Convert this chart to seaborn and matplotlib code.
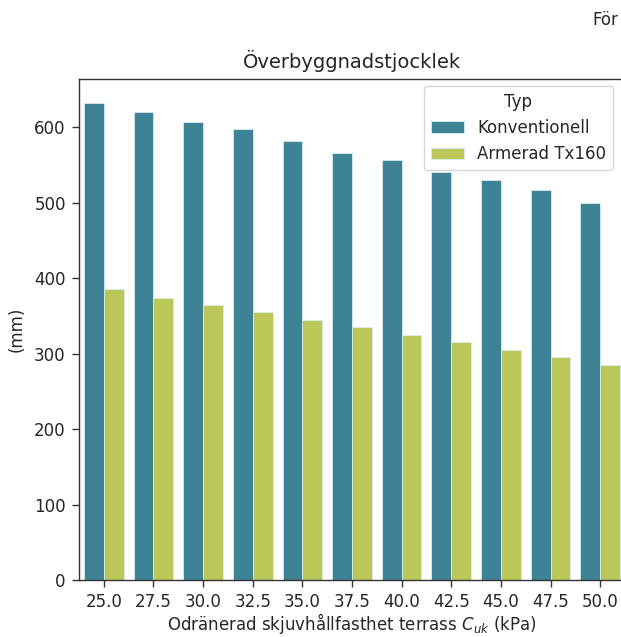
import matplotlib
matplotlib.use("Agg")
import matplotlib.pyplot as plt
import seaborn as sns
import pandas as pd

# Undrained shear strength of the subgrade (kPa)
cuk = ["25.0", "27.5", "30.0", "32.5", "35.0", "37.5", "40.0", "42.5", "45.0", "47.5", "50.0"]
konventionell = [632, 620, 606, 597, 581, 566, 556, 541, 530, 516, 500]
armerad_tx160 = [385, 374, 364, 355, 345, 335, 325, 315, 305, 295, 285]
typ_labels = ["Konventionell", "Armerad Tx160"]
colors = ["#3e8296", "#bcc75a"]

df = pd.DataFrame({
    "Cuk": cuk * 2,
    "Tjocklek": konventionell + armerad_tx160,
    "Typ": [typ_labels[0]] * len(cuk) + [typ_labels[1]] * len(cuk),
})

sns.set_style("ticks")
plt.rcParams["font.family"] = ["DejaVu Sans"]
plt.rcParams["axes.linewidth"] = 1.0
plt.rcParams["axes.edgecolor"] = "#333333"

fig = plt.figure(figsize=(6.21, 6.37), dpi=100)
ax = fig.add_axes([79 / 621, 57 / 637, 546 / 621, 501 / 637])

sns.barplot(data=df, x="Cuk", y="Tjocklek", hue="Typ", order=cuk,
            hue_order=typ_labels, palette=colors, saturation=1,
            edgecolor="#d8ecef", linewidth=0.6, ax=ax)

ax.set_title("Överbyggnadstjocklek", fontsize=14, pad=8)
ax.set_xlabel("Odränerad skjuvhållfasthet terrass $C_{uk}$ (kPa)", fontsize=12, labelpad=0)
ax.set_ylabel("(mm)", fontsize=12, labelpad=6)
ax.tick_params(labelsize=12, length=5, width=1.0, pad=4.5, color="#333333")
for s in ["top", "right"]:
    ax.spines[s].set_visible(True)

leg = ax.legend(title="Typ", loc="upper right",
                bbox_to_anchor=(613 / 621, 1 - 86 / 637), bbox_transform=fig.transFigure,
                borderaxespad=0, fontsize=12, title_fontsize=12)

fig.text(592 / 621, 1 - 20 / 637, "För", fontsize=12, ha="left", va="center")

fig.savefig("out.png", dpi=100)
